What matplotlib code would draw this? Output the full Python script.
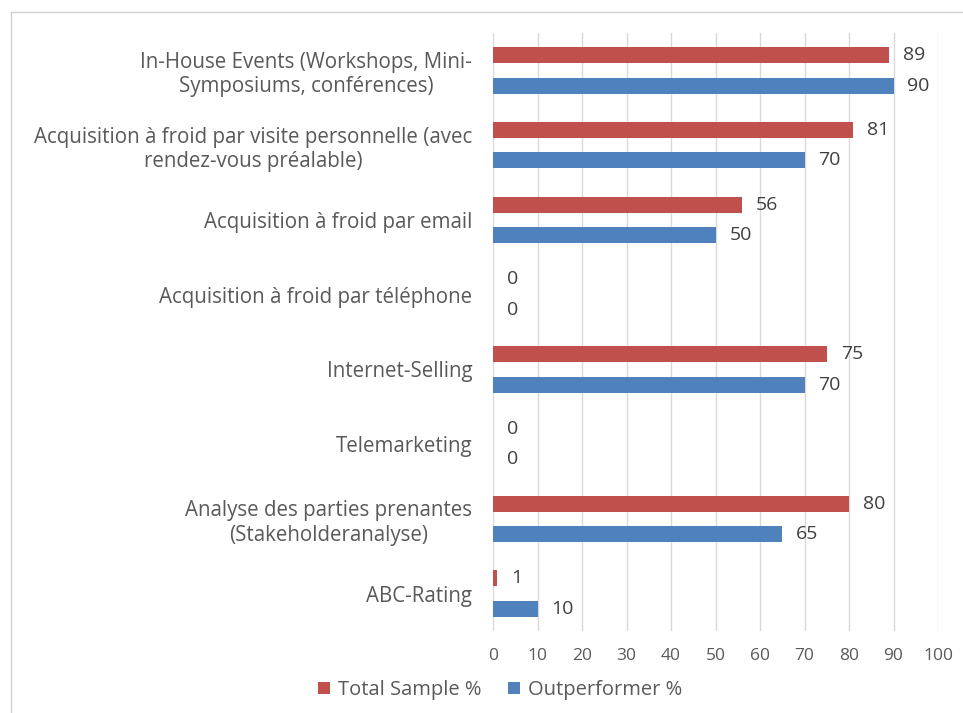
import matplotlib.pyplot as plt
from matplotlib.lines import Line2D
import numpy as np

# -------------------------
# DATA
# -------------------------

categories = [
    "In-House Events (Workshops, Mini-\nSymposiums, conférences)",
    "Acquisition à froid par visite personnelle (avec\nrendez-vous préalable)",
    "Acquisition à froid par email",
    "Acquisition à froid par téléphone",
    "Internet-Selling",
    "Telemarketing",
    "Analyse des parties prenantes\n(Stakeholderanalyse)",
    "ABC-Rating",
]

total_sample = [89, 81, 56, 0, 75, 0, 80, 1]
outperformer = [90, 70, 50, 0, 70, 0, 65, 10]

red = "#C0504D"
blue = "#4F81BD"
text_color = "#595959"

plt.rcParams["font.family"] = ["Open Sans", "DejaVu Sans"]

# -------------------------
# CREATE GRAPH
# -------------------------

fig = plt.figure(figsize=(9.63, 7.13), dpi=100)
ax = fig.add_axes([493 / 963, 1 - 631 / 713, 445 / 963, 598 / 713])

y = np.arange(len(categories))
h = 0.215
off = 0.205

bars_red = ax.barh(y - off, total_sample, height=h, color=red, label="Total Sample %", zorder=3)
bars_blue = ax.barh(y + off, outperformer, height=h, color=blue, label="Outperformer %", zorder=3)

ax.set_xlim(0, 100)
ax.set_ylim(len(categories) - 0.5, -0.5)
ax.set_xticks(range(0, 101, 10))
ax.set_yticks(y)
ax.set_yticklabels(categories, ha="right", multialignment="center")

ax.tick_params(axis="y", length=0, pad=15, labelsize=14.8, labelcolor=text_color)
ax.tick_params(axis="x", length=0, pad=12, labelsize=12.5, labelcolor=text_color)

ax.grid(axis="x", color="#D9D9D9", linewidth=1, zorder=0)
for s in ax.spines.values():
    s.set_visible(False)

# -------------------------
# SHOW VALUES
# -------------------------

for bars in (bars_red, bars_blue):
    for bar in bars:
        w = bar.get_width()
        ax.annotate(
            str(int(w)),
            (w, bar.get_y() + bar.get_height() / 2),
            xytext=(10, 0),
            textcoords="offset points",
            ha="left",
            va="center",
            fontsize=14,
            color="#404040",
        )

# -------------------------
# LEGEND AND FRAME
# -------------------------

fig.legend(
    handles=[bars_red, bars_blue],
    labels=["Total Sample %", "Outperformer %"],
    loc="center",
    bbox_to_anchor=(500 / 963, 1 - 690 / 713),
    ncol=2,
    frameon=False,
    fontsize=14.5,
    labelcolor=text_color,
    handlelength=0.6,
    handleheight=0.6,
    handletextpad=0.4,
    columnspacing=1.3,
)

fig.add_artist(Line2D([11 / 963, 11 / 963], [0, 1 - 12 / 713], transform=fig.transFigure, color="#D0D0D0", linewidth=1))
fig.add_artist(Line2D([11 / 963, 1], [1 - 12 / 713, 1 - 12 / 713], transform=fig.transFigure, color="#D0D0D0", linewidth=1))

plt.savefig("out.png", dpi=100)
